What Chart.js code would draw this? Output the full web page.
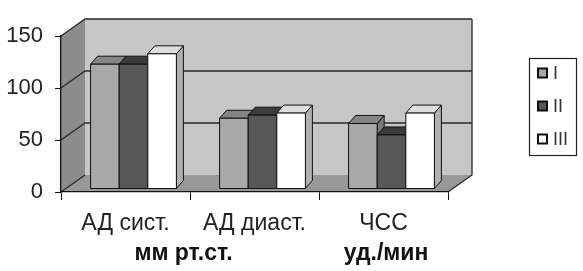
<!DOCTYPE html>
<html>
<head>
<meta charset="utf-8">
<script src="https://cdn.jsdelivr.net/npm/chart.js@4.4.1/dist/chart.umd.min.js"></script>
<style>
  html, body { margin: 0; padding: 0; background: #fff; }
</style>
</head>
<body>
<canvas id="chart" width="583" height="271"></canvas>
<script>
// datos
const categorias = ["АД сист.", "АД диаст.", "ЧСС"];
const unidades = ["мм рт.ст.", "уд./мин"];
const series = ["I", "II", "III"];
const valoresI = [120, 68, 63];
const valoresII = [120, 71, 52];
const valoresIII = [130, 73, 73];
const ticksY = [0, 50, 100, 150];

// colores: frente, arriba, lado
const colores = [
  ["#a9a9a9", "#858585", "#7a7a7a"],
  ["#575757", "#3c3c3c", "#333333"],
  ["#ffffff", "#dedede", "#b0b0b0"]
];
const fuente = "'Liberation Sans', Arial, sans-serif";

// profundidad de las paredes y de las barras
const fondo = { dx: 24, dy: -17 };
const barra = { dx: 7, dy: -8 };
const corrimiento = { dx: 8, dy: -3 };

function poly(ctx, pts, fill, stroke, lw) {
  ctx.beginPath();
  ctx.moveTo(pts[0][0], pts[0][1]);
  for (let i = 1; i < pts.length; i++) ctx.lineTo(pts[i][0], pts[i][1]);
  ctx.closePath();
  if (fill) { ctx.fillStyle = fill; ctx.fill(); }
  if (stroke) { ctx.strokeStyle = stroke; ctx.lineWidth = lw || 1; ctx.stroke(); }
}

const paredes = {
  id: "paredes",
  beforeDraw(chart) {
    const ctx = chart.ctx;
    const a = chart.chartArea;
    const y = chart.scales.y;
    const top = y.getPixelForValue(ticksY[ticksY.length - 1]);
    const bot = y.getPixelForValue(0);
    ctx.save();
    // pared de fondo
    poly(ctx, [[a.left + fondo.dx, top + fondo.dy], [a.right + fondo.dx, top + fondo.dy],
      [a.right + fondo.dx, bot + fondo.dy], [a.left + fondo.dx, bot + fondo.dy]], "#c6c6c6", null);
    // pared lateral
    poly(ctx, [[a.left, top], [a.left + fondo.dx, top + fondo.dy],
      [a.left + fondo.dx, bot + fondo.dy], [a.left, bot]], "#8c8c8c", null);
    // piso
    poly(ctx, [[a.left, bot], [a.left + fondo.dx, bot + fondo.dy],
      [a.right + fondo.dx, bot + fondo.dy], [a.right, bot]], "#989898", null);
    // lineas de la grilla
    ctx.strokeStyle = "#2a2a2a";
    ctx.lineWidth = 1.3;
    ticksY.forEach(v => {
      const py = y.getPixelForValue(v);
      ctx.beginPath();
      ctx.moveTo(a.left, py);
      ctx.lineTo(a.left + fondo.dx, py + fondo.dy);
      if (v > 0) ctx.lineTo(a.right + fondo.dx, py + fondo.dy);
      ctx.stroke();
    });
    ctx.beginPath();
    ctx.moveTo(a.right + fondo.dx, top + fondo.dy);
    ctx.lineTo(a.right + fondo.dx, bot + fondo.dy);
    ctx.lineTo(a.right, bot);
    ctx.stroke();
    ctx.restore();
  },
  beforeDatasetsDraw(chart) {
    chart.ctx.save();
    chart.ctx.translate(corrimiento.dx, corrimiento.dy);
  },
  afterDatasetsDraw(chart) {
    const ctx = chart.ctx;
    ctx.restore();
    ctx.save();
    ctx.lineJoin = "round";
    for (let i = 0; i < categorias.length; i++) {
      chart.data.datasets.forEach((ds, d) => {
        const el = chart.getDatasetMeta(d).data[i];
        const l = el.x - el.width / 2 + corrimiento.dx;
        const r = el.x + el.width / 2 + corrimiento.dx;
        const t = el.y + corrimiento.dy;
        const b = el.base + corrimiento.dy;
        const c = colores[d];
        // lado
        poly(ctx, [[r, t], [r + barra.dx, t + barra.dy], [r + barra.dx, b + barra.dy], [r, b]], c[2], "#111", 1);
        // arriba
        poly(ctx, [[l, t], [l + barra.dx, t + barra.dy], [r + barra.dx, t + barra.dy], [r, t]], c[1], "#111", 1);
        // frente
        poly(ctx, [[l, t], [r, t], [r, b], [l, b]], c[0], "#111", 1);
      });
    }
    ctx.restore();
  },
  afterDraw(chart) {
    const ctx = chart.ctx;
    const x = chart.scales.x;
    ctx.save();
    // unidades debajo de las categorias
    ctx.fillStyle = "#111";
    ctx.font = "bold 23px " + fuente;
    ctx.textAlign = "center";
    ctx.textBaseline = "middle";
    ctx.fillText(unidades[0], x.getPixelForValue(0.45), 254);
    ctx.fillText(unidades[1], x.getPixelForValue(2.02), 254);
    // leyenda
    const lx = 529, ly = 58;
    ctx.fillStyle = "#fff";
    ctx.fillRect(lx, ly, 47, 97);
    ctx.strokeStyle = "#222";
    ctx.lineWidth = 1.2;
    ctx.strokeRect(lx + 0.5, ly + 0.5, 47, 97);
    ctx.font = "18px " + fuente;
    ctx.textAlign = "left";
    series.forEach((s, k) => {
      const cy = 73 + k * 33;
      ctx.fillStyle = colores[k][0];
      ctx.fillRect(538, cy - 4.5, 9, 9);
      ctx.lineWidth = 2;
      ctx.strokeStyle = "#111";
      ctx.strokeRect(538, cy - 4.5, 9, 9);
      ctx.fillStyle = "#333";
      ctx.fillText(s, 553, cy + 1);
    });
    ctx.restore();
  }
};

const canvas = document.getElementById("chart");
const data = {
  labels: categorias,
  datasets: [valoresI, valoresII, valoresIII].map((v, d) => ({
    label: series[d],
    data: v,
    backgroundColor: colores[d][0],
    borderColor: "#111",
    borderWidth: 1,
    barPercentage: 1,
    categoryPercentage: 0.665
  }))
};

const config = {
  type: "bar",
  data: data,
  options: {
    responsive: false,
    animation: false,
    devicePixelRatio: 1,
    layout: { padding: { left: 0, top: 36, right: 135, bottom: 0 } },
    plugins: { legend: { display: false }, tooltip: { enabled: false } },
    scales: {
      x: {
        afterFit: s => { s.height = 79; },
        grid: { drawOnChartArea: false, drawTicks: true, tickLength: 8, color: "#111", offset: true },
        border: { display: true, color: "#111", width: 1.3 },
        ticks: { color: "#222", padding: 10, font: { size: 23, family: fuente } }
      },
      y: {
        min: 0,
        max: 150,
        afterFit: s => { s.width = 61; },
        afterBuildTicks: s => { s.ticks = ticksY.map(v => ({ value: v })); },
        grid: { drawOnChartArea: false, drawTicks: true, tickLength: 6, color: "#111" },
        border: { display: true, color: "#111", width: 1.3 },
        ticks: { color: "#222", padding: 12, font: { size: 22, family: fuente } }
      }
    }
  },
  plugins: [paredes]
};

const chart = new Chart(canvas, config);
</script>
</body>
</html>
